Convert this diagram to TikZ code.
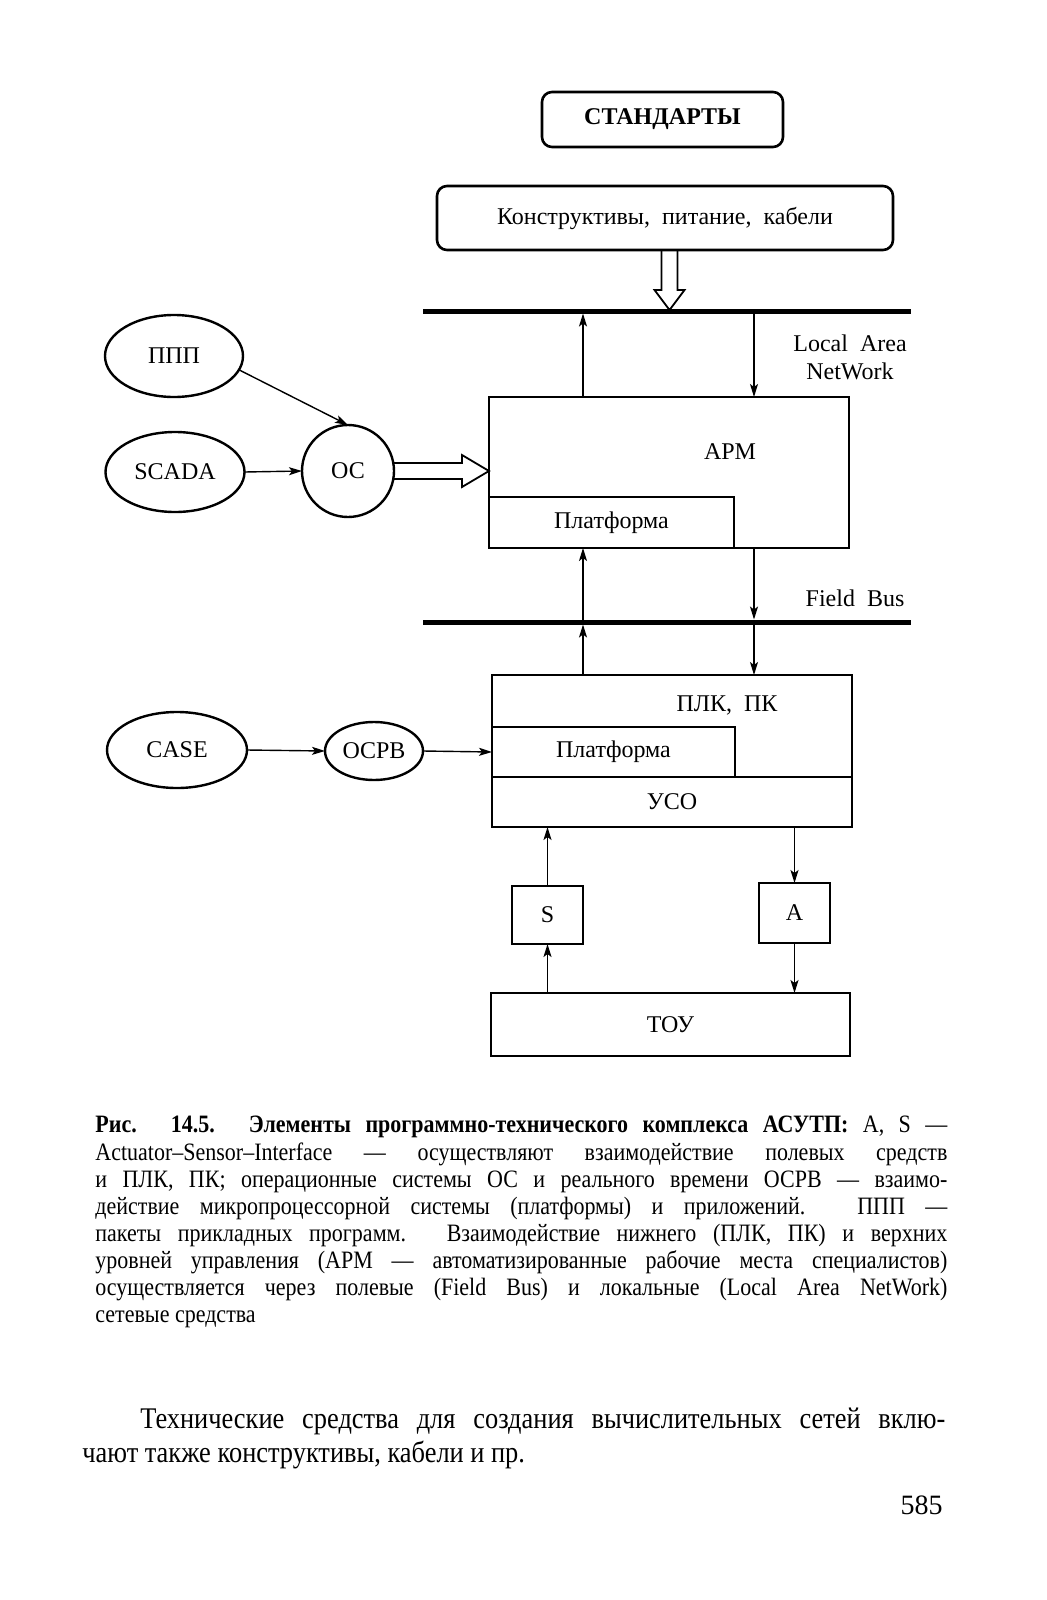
\documentclass[tikz,border=0pt]{standalone}
\usepackage{fontspec}
\setmainfont{Liberation Serif}
\newfontfamily\capfont[FakeStretch=0.88]{Liberation Serif}
\usetikzlibrary{arrows.meta,shapes.geometric}

\begin{document}
\begin{tikzpicture}[x=0.5pt,y=-0.5pt,
  font=\fontsize{12}{14}\selectfont,
  >={Stealth[length=6.5pt,width=4pt,inset=1.5pt]},
  box/.style={draw,line width=1.3pt,inner sep=0pt,outer sep=0pt},
  rbox/.style={box,rounded corners=5pt},
  oval/.style={draw,ellipse,line width=1.2pt,inner sep=0pt,outer sep=0pt},
  bus/.style={fill=black,minimum width=244pt,minimum height=2.5pt,inner sep=0pt,outer sep=0pt},
  link/.style={->,line width=0.7pt},
  hollow/.style={line width=0.9pt,line join=miter}]

\useasboundingbox (0,0) rectangle (1047,1600);

% standards and cabinets
\node[rbox,minimum width=120.5pt,minimum height=27.5pt,font=\fontsize{12}{14}\selectfont\bfseries] (std) at (662.5,119.5) {СТАНДАРТЫ};
\node[rbox,minimum width=228pt,minimum height=32pt] (kons) at (665,218) {Конструктивы, \ питание, \ кабели};

% buses
\node[bus] (lan) at (667,311) {};
\node[bus] (fb) at (666.5,622) {};
\node[align=center,inner sep=0pt] (lantxt) at (850,357) {Local \ Area\\NetWork};
\node[inner sep=0pt] (fbtxt) at (855,598) {Field \ Bus};

% upper level
\node[box,minimum width=180pt,minimum height=75.5pt] (arm) at (669,472.5) {};
\node[box,minimum width=122.5pt,minimum height=25.5pt] (armplat) at (611.5,522.5) {Платформа};
\node[inner sep=0pt] (armtxt) at (730,452) {АРМ};

% lower level
\node[box,minimum width=180pt,minimum height=51pt] (plk) at (672,726) {};
\node[box,minimum width=121.5pt,minimum height=25pt] (plkplat) at (613.5,752) {Платформа};
\node[inner sep=0pt] (plktxt) at (727,705) {ПЛК, \ ПК};
\node[box,minimum width=180pt,minimum height=25pt] (uso) at (672,802) {УСО};

\node[box,minimum width=35.5pt,minimum height=29pt] (s) at (547.5,915) {S};
\node[box,minimum width=35.5pt,minimum height=30pt] (a) at (794.5,913) {A};
\node[box,minimum width=179.5pt,minimum height=31.5pt] (tou) at (670.5,1024.5) {ТОУ};

% software
\node[oval,minimum width=69pt,minimum height=41pt] (ppp) at (174,356) {ППП};
\node[oval,minimum width=69.5pt,minimum height=40pt] (scada) at (175,472) {SCADA};
\node[draw,circle,line width=1.2pt,inner sep=0pt,outer sep=0pt,minimum size=46pt] (os) at (348,471) {ОС};
\node[oval,minimum width=70pt,minimum height=38pt] (case) at (177,750) {CASE};
\node[oval,minimum width=49pt,minimum height=29pt] (osrv) at (374,751) {ОСРВ};

\coordinate (xu) at (583,0);
\coordinate (xd) at (754,0);
\coordinate (xh) at (669.5,0);

% connectors
\draw[hollow] (kons.south -| xh) ++(-8,0) -- ++(0,40) -- ++(-7,0) -- ++(15,20) -- ++(15,-20) -- ++(-7,0) -- ++(0,-40);
\draw[hollow] (os.east) ++(0,-8) -- ++(68,0) -- ++(0,-8) -- ++(27,16) -- ++(-27,16) -- ++(0,-8) -- ++(-68,0);

\draw[link] (arm.north -| xu) -- (lan.south -| xu);
\draw[link] (lan.south -| xd) -- (arm.north -| xd);
\draw[link] (fb.north -| xu) -- (arm.south -| xu);
\draw[link] (arm.south -| xd) -- (fb.north -| xd);
\draw[link] (plk.north -| xu) -- (fb.south -| xu);
\draw[link] (fb.south -| xd) -- (plk.north -| xd);

\draw[link] (s.north) -- (uso.south -| s.north);
\draw[link] (tou.north -| s.south) -- (s.south);
\draw[link] (uso.south -| a.north) -- (a.north);
\draw[link] (a.south) -- (tou.north -| a.south);

\draw[link] (ppp.-12) -- (os.north);
\draw[link] (scada.east) -- (os.west);
\draw[link] (case.east) -- (osrv.west);
\draw[link] (osrv.east) -- (plkplat.west);

% caption and text
\node[anchor=north west,inner sep=0pt,align=left,font=\capfont\fontsize{12.5}{13.55}\selectfont] (cap) at (95,1116) {%
\makebox[426pt][s]{\textbf{Рис. 14.5. Элементы программно-технического комплекса АСУТП:} A, S —}\\
\makebox[426pt][s]{Actuator–Sensor–Interface — осуществляют взаимодействие полевых средств}\\
\makebox[426pt][s]{и ПЛК, ПК; операционные системы ОС и реального времени ОСРВ — взаимо-}\\
\makebox[426pt][s]{действие микропроцессорной системы (платформы) и приложений. ППП —}\\
\makebox[426pt][s]{пакеты прикладных программ. Взаимодействие нижнего (ПЛК, ПК) и верхних}\\
\makebox[426pt][s]{уровней управления (АРМ — автоматизированные рабочие места специалистов)}\\
\makebox[426pt][s]{осуществляется через полевые (Field Bus) и локальные (Local Area NetWork)}\\
сетевые средства};

\node[anchor=north west,inner sep=0pt,align=left,font=\capfont\fontsize{15}{17}\selectfont] (body) at (82,1408) {%
\hspace*{29pt}\makebox[402.5pt][s]{Технические средства для создания вычислительных сетей вклю-}\\
чают также конструктивы, кабели и пр.};

\node[anchor=east,inner sep=0pt,font=\fontsize{14}{17}\selectfont] (page) at (943,1505) {585};
\end{tikzpicture}
\end{document}
